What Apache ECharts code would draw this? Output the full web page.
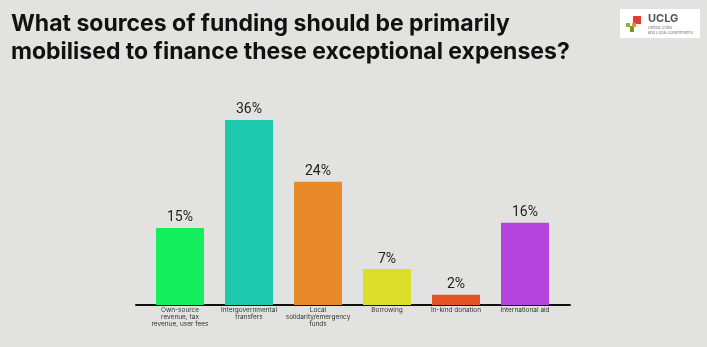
<!DOCTYPE html>
<html><head><meta charset="utf-8">
<script src="https://cdn.jsdelivr.net/npm/echarts@6/dist/echarts.min.js"></script>
<style>html,body{margin:0;padding:0;background:#e2e2e0}#c{width:707px;height:347px}</style>
</head><body><div id="c"></div>
<script>
const titleText = "What sources of funding should be primarily\nmobilised to finance these exceptional expenses?";
const categories = ["Own-source\nrevenue, tax\nrevenue, user fees", "Intergovernmental\ntransfers", "Local\nsolidarity/emergency\nfunds", "Borrowing", "In-kind donation", "International aid"];
const values = [15, 36, 24, 7, 2, 16];
const colors = ["#12ee5c", "#1dc9ac", "#e88a2a", "#dbde2a", "#e45326", "#b444dc"];

const chart = echarts.init(document.getElementById('c'));
chart.setOption({
  backgroundColor: '#e2e2e0',
  animation: false,
  title: {
    text: titleText, left: 6, top: 5,
    textStyle: {fontFamily: 'Inter', fontWeight: 'bold', fontSize: 23, lineHeight: 28, color: '#111'}
  },
  grid: [
    {left: 145.5, right: 147.5, top: 99.4, bottom: 42},
    {left: 136, right: 137, top: 99.4, bottom: 42}
  ],
  xAxis: [
    {type: 'category', data: categories, gridIndex: 0,
     axisLine: {show: false}, axisTick: {show: false},
     axisLabel: {interval: 0, fontSize: 6.5, lineHeight: 7, color: '#333', margin: 2, fontFamily: 'Inter'}},
    {type: 'category', data: [''], gridIndex: 1,
     axisLine: {show: true, lineStyle: {color: '#111', width: 2}}, axisTick: {show: false}, axisLabel: {show: false}}
  ],
  yAxis: [
    {type: 'value', min: 0, max: 40, gridIndex: 0, show: false},
    {type: 'value', min: 0, max: 40, gridIndex: 1, show: false}
  ],
  series: [{
    type: 'bar', xAxisIndex: 0, yAxisIndex: 0,
    data: values.map((v, i) => ({value: v, itemStyle: {color: colors[i]}})),
    barWidth: 48,
    label: {show: true, position: 'top', distance: 3, formatter: '{c}%', fontSize: 14, color: '#222', fontFamily: 'Roboto'}
  }],
  graphic: [
    {type: 'rect', left: 620, top: 9, shape: {width: 80, height: 29}, style: {fill: '#ffffff'}},
    {type: 'rect', left: 626, top: 23, shape: {width: 4, height: 4}, style: {fill: '#8cb23c'}},
    {type: 'rect', left: 630, top: 26, shape: {width: 4, height: 6}, style: {fill: '#6f9a2a'}},
    {type: 'rect', left: 633, top: 16, shape: {width: 8, height: 8}, style: {fill: '#e0402a'}},
    {type: 'rect', left: 632, top: 23, shape: {width: 4, height: 4}, style: {fill: '#f08a2a'}},
    {type: 'text', left: 648, top: 13, style: {text: 'UCLG', font: 'bold 11px Inter', fill: '#555'}},
    {type: 'text', left: 648, top: 25, style: {text: 'United Cities\nand Local Governments', font: '4px Inter', fill: '#777', lineHeight: 5}}
  ]
});
</script></body></html>
